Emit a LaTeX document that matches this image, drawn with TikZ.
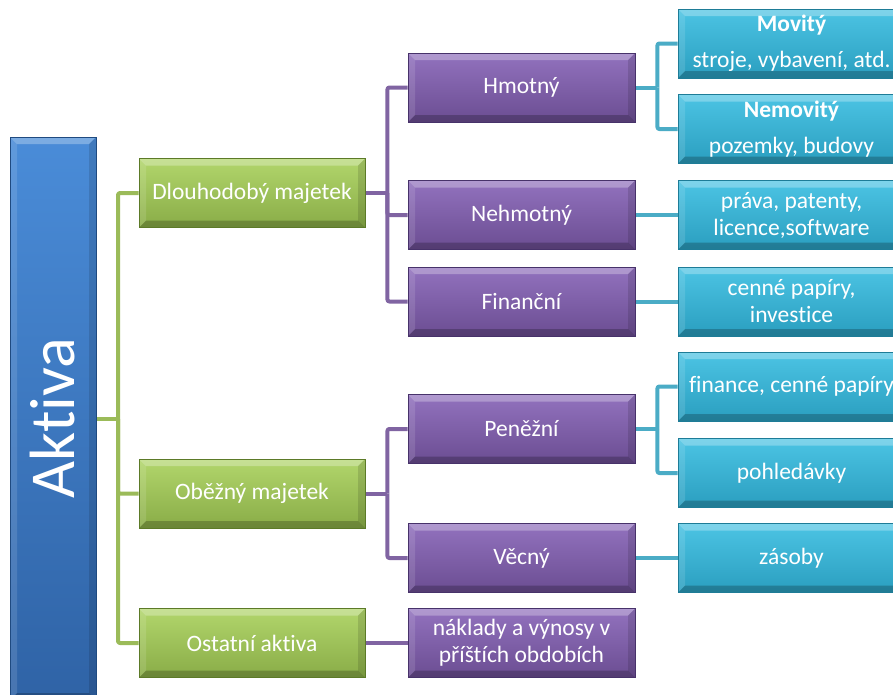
\documentclass[tikz,border=0pt]{standalone}
\usepackage{fontspec}
\setmainfont{Carlito}[Ligatures=NoCommon]
\usetikzlibrary{backgrounds,calc}
\pgfdeclarelayer{bottom}
\pgfsetlayers{bottom,background,main}
\definecolor{btop}{HTML}{4A8CD8}
\definecolor{bbot}{HTML}{2F63A6}
\definecolor{bdark}{HTML}{1F4A80}
\definecolor{gtop}{HTML}{B2D66C}
\definecolor{gbot}{HTML}{89AC47}
\definecolor{gdark}{HTML}{5C7A28}
\definecolor{gline}{HTML}{9BBB59}
\definecolor{ptop}{HTML}{9272BE}
\definecolor{pbot}{HTML}{6B4D92}
\definecolor{pdark}{HTML}{47326A}
\definecolor{pline}{HTML}{8064A2}
\definecolor{ctop}{HTML}{4CC4E4}
\definecolor{cbot}{HTML}{2A9EBF}
\definecolor{cdark}{HTML}{1E7C97}
\definecolor{cline}{HTML}{4BACC6}
\tikzset{
  bevel/.style={path picture={
    \fill[white,opacity=0.28] (path picture bounding box.north west) -- (path picture bounding box.north east)
      -- ([xshift=-7pt,yshift=-7pt]path picture bounding box.north east) -- ([xshift=7pt,yshift=-7pt]path picture bounding box.north west) -- cycle;
    \fill[black,opacity=0.22] (path picture bounding box.south west) -- (path picture bounding box.south east)
      -- ([xshift=-7pt,yshift=7pt]path picture bounding box.south east) -- ([xshift=7pt,yshift=7pt]path picture bounding box.south west) -- cycle;
    \fill[white,opacity=0.12] (path picture bounding box.north west) -- ([xshift=7pt,yshift=-7pt]path picture bounding box.north west)
      -- ([xshift=7pt,yshift=7pt]path picture bounding box.south west) -- (path picture bounding box.south west) -- cycle;
    \fill[black,opacity=0.12] (path picture bounding box.north east) -- ([xshift=-7pt,yshift=-7pt]path picture bounding box.north east)
      -- ([xshift=-7pt,yshift=7pt]path picture bounding box.south east) -- (path picture bounding box.south east) -- cycle;
  }},
  base/.style={rectangle, text=white, align=center, inner sep=2pt, line width=0.8pt,
    font=\fontsize{23.5}{27}\selectfont, bevel},
  abox/.style={base, minimum width=86pt, minimum height=563pt, top color=btop, bottom color=bbot, draw=bdark},
  gbox/.style={base, minimum width=226pt, minimum height=69pt, top color=gtop, bottom color=gbot, draw=gdark},
  pbox/.style={base, minimum width=227pt, minimum height=69pt, top color=ptop, bottom color=pbot, draw=pdark},
  cbox/.style={base, minimum width=227pt, minimum height=69pt, top color=ctop, bottom color=cbot, draw=cdark},
  conn/.style={line width=4pt, line join=round, rounded corners=2pt},
  gconn/.style={conn, draw=gline},
  pconn/.style={conn, draw=pline},
  cconn/.style={conn, draw=cline},
}
\begin{document}
\begin{tikzpicture}[x=1pt,y=-1pt]
\useasboundingbox (0,0) rectangle (893,694);
\clip (0,0) rectangle (893,694);
\begin{pgfonlayer}{bottom}
\fill[white] (0,0) rectangle (893,694);
\end{pgfonlayer}

% root
\node[abox] (akt) at (53,418.5) {\rotatebox{90}{\fontsize{64}{64}\selectfont Aktiva}};

% level 1
\node[gbox] (dl) at (252,193) {Dlouhodobý majetek};
\node[gbox] (ob) at (252,493.5) {Oběžný majetek};
\node[gbox] (os) at (252,643) {Ostatní aktiva};

% level 2
\node[pbox] (hm) at (521.5,87.5) {Hmotný};
\node[pbox] (ne) at (521.5,215) {Nehmotný};
\node[pbox] (fi) at (521.5,301.5) {Finanční};
\node[pbox] (pe) at (521.5,429) {Peněžní};
\node[pbox] (ve) at (521.5,558) {Věcný};
\node[pbox] (na) at (521.5,643) {náklady a výnosy v\\příštích obdobích};

% level 3
\node[cbox] (mo) at (791.5,43.5) {\textbf{Movitý}\\[9pt]stroje, vybavení, atd.};
\node[cbox] (nm) at (791.5,129) {\textbf{Nemovitý}\\[9pt]pozemky, budovy};
\node[cbox] (pr) at (791.5,215) {práva, patenty,\\licence,software};
\node[cbox] (cp) at (791.5,301.5) {cenné papíry,\\investice};
\node[cbox] (fc) at (791.5,386.5) {finance, cenné papíry};
\node[cbox] (po) at (791.5,473) {pohledávky};
\node[cbox] (za) at (791.5,558) {zásoby};

\begin{pgfonlayer}{background}
  % green
  \coordinate (gA) at (118,419);
  \draw[gconn] (akt.east |- gA) -- (gA);
  \draw[gconn] (gA) |- (dl.west);
  \draw[gconn] (gA) |- (ob.west);
  \draw[gconn] (gA) |- (os.west);
  % purple
  \coordinate (pD) at ($(dl.east)+(22,0)$);
  \draw[pconn] (dl.east) -- (pD);
  \draw[pconn] (pD) |- (hm.west);
  \draw[pconn] (pD) |- (ne.west);
  \draw[pconn] (pD) |- (fi.west);
  \coordinate (pO) at ($(ob.east)+(22,0)$);
  \draw[pconn] (ob.east) -- (pO);
  \draw[pconn] (pO) |- (pe.west);
  \draw[pconn] (pO) |- (ve.west);
  \draw[pconn] (os.east) -- (na.west);
  % cyan
  \coordinate (cH) at ($(hm.east)+(22,0)$);
  \draw[cconn] (hm.east) -- (cH);
  \draw[cconn] (cH) |- (mo.west);
  \draw[cconn] (cH) |- (nm.west);
  \draw[cconn] (ne.east) -- (pr.west);
  \draw[cconn] (fi.east) -- (cp.west);
  \coordinate (cP) at ($(pe.east)+(22,0)$);
  \draw[cconn] (pe.east) -- (cP);
  \draw[cconn] (cP) |- (fc.west);
  \draw[cconn] (cP) |- (po.west);
  \draw[cconn] (ve.east) -- (za.west);
\end{pgfonlayer}
\end{tikzpicture}
\end{document}
